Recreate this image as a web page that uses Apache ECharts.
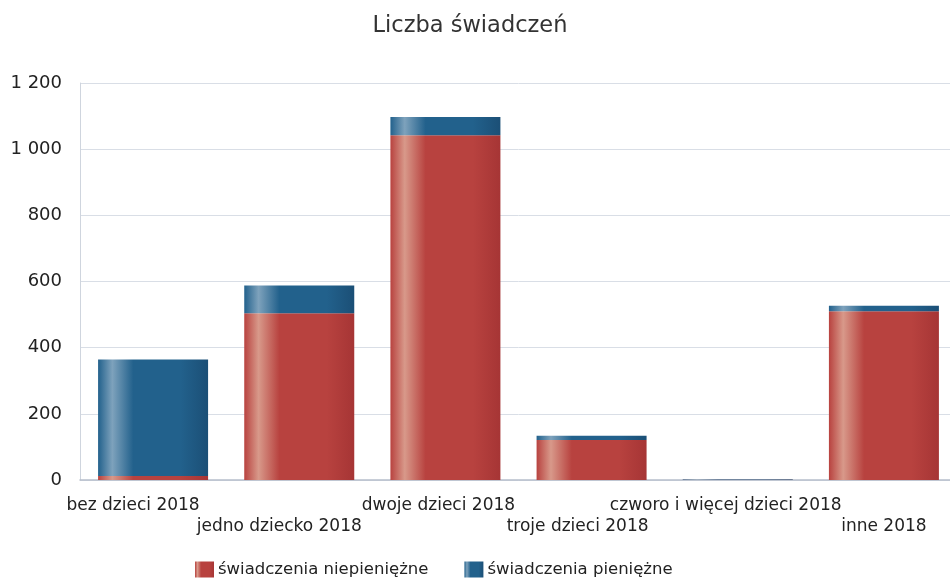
<!DOCTYPE html>
<html>
<head>
<meta charset="utf-8">
<script src="https://cdn.jsdelivr.net/npm/echarts@6/dist/echarts.min.js"></script>
<style>
html,body{margin:0;padding:0;background:#fff;overflow:hidden;}
#c{width:958px;height:583px;}
</style>
</head>
<body>
<div id="c"></div>
<script>
const categories = ['bez dzieci 2018','jedno dziecko 2018','dwoje dzieci 2018','troje dzieci 2018','czworo i więcej dzieci 2018','inne 2018'];
const niepieniezne = [12, 504, 1042, 121, 0.5, 510];
const pieniezne = [352, 84, 55, 13, 2, 17];
const seriesNames = ['świadczenia niepieniężne','świadczenia pieniężne'];
const yTicks = [0, 200, 400, 600, 800, 1000, 1200];

// horizontal shift (px, leftwards) of each category label, as seen in the reference
const labelShift = [20, 20, 7, 14, 12, 0];

function grad(light, base, dark){
  return new echarts.graphic.LinearGradient(0,0,1,0,[
    {offset:0, color:base},
    {offset:0.13, color:light},
    {offset:0.32, color:base},
    {offset:0.75, color:base},
    {offset:1, color:dark}
  ]);
}
const redFill = grad('#d8998a', '#b8423f', '#a63535');
const blueFill = grad('#7ea2bc', '#22618c', '#1b4f76');
const FONT = 'DejaVu Sans';

const rich = {};
categories.forEach((c,i)=>{
  rich['s'+i] = {
    fontFamily:FONT, fontSize:17, color:'#222',
    padding:[i%2===1 ? 21 : 0, 2*labelShift[i], 0, 0]
  };
});

const chart = echarts.init(document.getElementById('c'));
chart.setOption({
  animation:false,
  backgroundColor:'#fff',
  title:{
    text:'Liczba świadczeń', left:465, top:10, textAlign:'center',
    textStyle:{fontFamily:FONT, fontSize:22.5, fontWeight:'normal', color:'#333'}
  },
  legend:{
    bottom:0, left:190, itemGap:36, itemWidth:19, itemHeight:16, icon:'rect',
    textStyle:{fontFamily:FONT, fontSize:16.5, color:'#222', padding:[0,0,0,-1]},
    data:seriesNames
  },
  grid:{left:80, right:1, top:83, bottom:103},
  xAxis:{
    type:'category', data:categories,
    axisLine:{lineStyle:{color:'#b6bfcb', width:1.5}},
    axisTick:{show:false},
    axisLabel:{
      interval:0, margin:17,
      formatter:(v,i)=> '{s'+i+'|'+v+'}',
      rich:rich
    }
  },
  yAxis:{
    type:'value', min:yTicks[0], max:yTicks[yTicks.length-1], interval:200,
    axisLine:{show:true, lineStyle:{color:'#cfd5de'}},
    axisTick:{show:false},
    splitLine:{lineStyle:{color:'#d9dee6'}},
    axisLabel:{
      fontFamily:FONT, fontSize:18, color:'#222', margin:18,
      formatter:v=> String(v).replace(/\B(?=(\d{3})+(?!\d))/g,' ')
    }
  },
  series:[
    {name:seriesNames[0], type:'bar', stack:'s', data:niepieniezne, barWidth:110, itemStyle:{color:redFill}},
    {name:seriesNames[1], type:'bar', stack:'s', data:pieniezne, barWidth:110, itemStyle:{color:blueFill}}
  ]
});
</script>
</body>
</html>
